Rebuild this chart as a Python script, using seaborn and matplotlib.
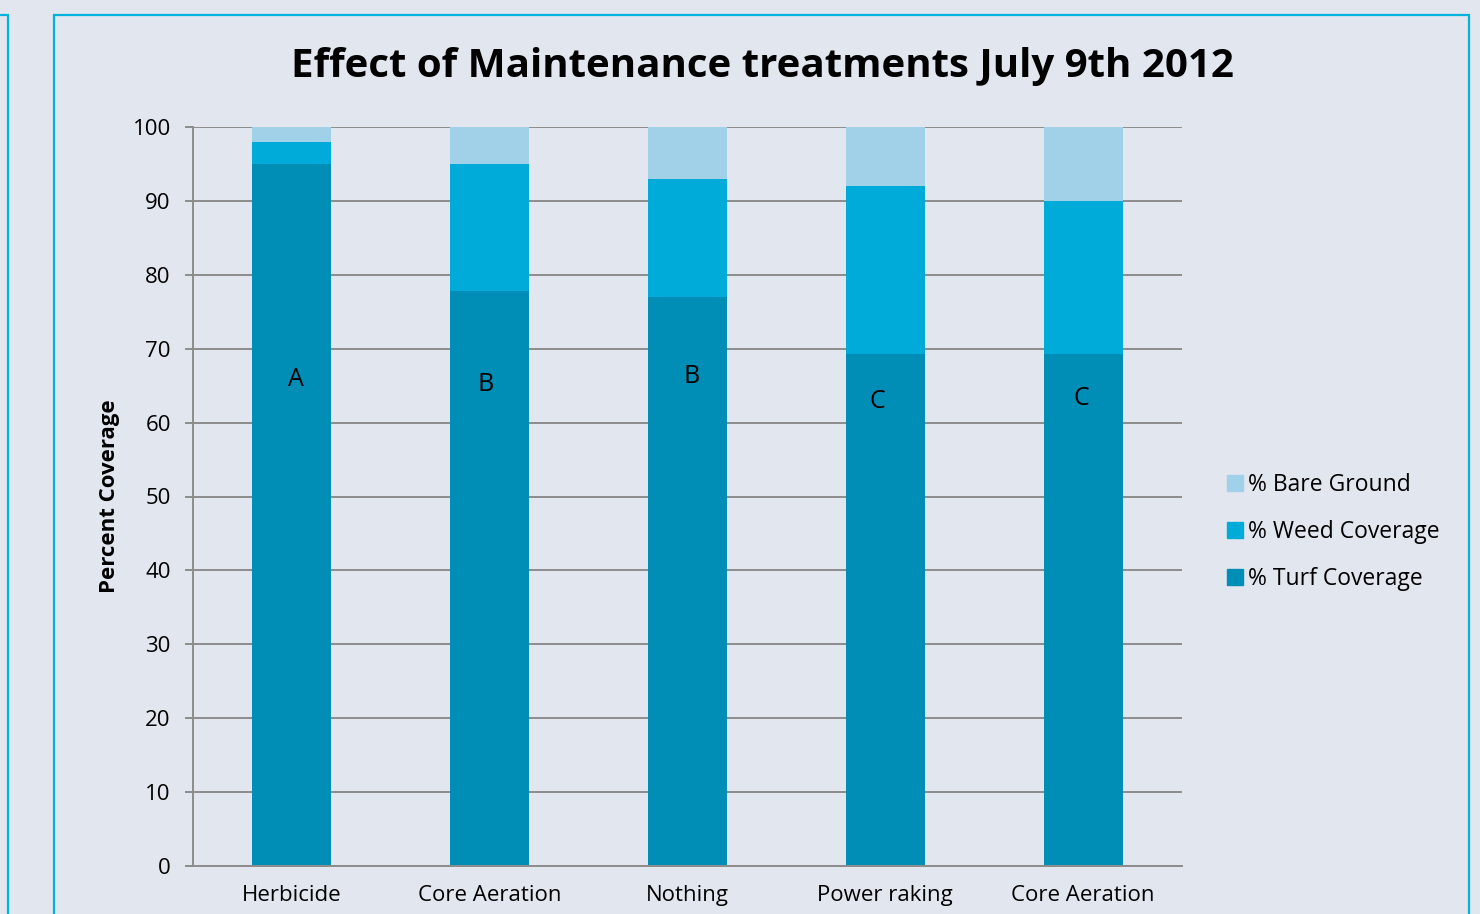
import matplotlib
matplotlib.use("Agg")
import matplotlib.pyplot as plt
import matplotlib.patches as mpatches
from matplotlib.ticker import FixedLocator
import seaborn as sns
import pandas as pd
import numpy as np

categories = ["Herbicide", "Core Aeration", "Nothing", "Power raking", "Core Aeration "]
tick_labels = ["Herbicide", "Core Aeration", "Nothing", "Power raking", "Core Aeration"]
turf = [95.0, 77.8, 77.0, 69.3, 69.3]
weed = [3.0, 17.2, 16.0, 22.7, 20.7]
bare = [2.0, 5.0, 7.0, 8.0, 10.0]
letters = ["A", "B", "B", "C", "C"]
letter_y = [65.8, 65.2, 66.3, 62.9, 63.2]
letter_dx = [0.02, -0.02, 0.02, -0.04, -0.01]

series_names = ["% Turf Coverage", "% Weed Coverage", "% Bare Ground"]
colors = {"% Turf Coverage": "#008EB7", "% Weed Coverage": "#00ABDA", "% Bare Ground": "#A1D0E9"}

BG = "#E2E6EF"
FRAME = "#00B2DE"
GRID = "#8C8C8C"

sns.set_theme(style="white")
plt.rcParams["font.family"] = ["Open Sans", "DejaVu Sans"]
plt.rcParams["text.color"] = "black"
plt.rcParams["axes.labelcolor"] = "black"
plt.rcParams["xtick.color"] = "black"
plt.rcParams["ytick.color"] = "black"

df = pd.DataFrame({"cat": categories, "turf": turf, "weed": weed, "bare": bare})
df["tw"] = df["turf"] + df["weed"]
df["total"] = df["tw"] + df["bare"]

fig = plt.figure(figsize=(14.8, 9.14), dpi=100, facecolor=BG)
ax = fig.add_axes([193/1480, 1-866/914, (1182-193)/1480, (866-127)/914])
ax.set_facecolor(BG)

sns.barplot(data=df, x="cat", y="total", color=colors["% Bare Ground"], width=0.4,
            saturation=1, ax=ax, zorder=3, linewidth=0)
sns.barplot(data=df, x="cat", y="tw", color=colors["% Weed Coverage"], width=0.4,
            saturation=1, ax=ax, zorder=3, linewidth=0)
sns.barplot(data=df, x="cat", y="turf", color=colors["% Turf Coverage"], width=0.4,
            saturation=1, ax=ax, zorder=3, linewidth=0)

for i, (l, yv, dx) in enumerate(zip(letters, letter_y, letter_dx)):
    ax.text(i + dx, yv, l, ha="center", va="center", fontsize=18, color="black", zorder=5)

ax.set_ylim(0, 100)
ax.set_xlim(-0.5, 4.5)
ax.set_yticks(np.arange(0, 101, 10))
ax.yaxis.grid(True, color=GRID, linewidth=1.4, zorder=0)
ax.set_axisbelow(True)
ax.set_xticks(range(5))
ax.set_xticklabels(tick_labels, fontsize=16)
ax.xaxis.set_minor_locator(FixedLocator(np.arange(-0.5, 5, 1)))
ax.tick_params(axis="x", which="major", length=0, pad=14, labelcolor="black")
ax.tick_params(axis="x", which="minor", length=8, width=1.4, color=GRID, direction="out")
ax.tick_params(axis="y", length=6, width=1.4, color=GRID, labelsize=16, pad=10, left=True,
               labelcolor="black")
ax.set_xlabel("")
ax.set_ylabel("Percent Coverage", fontsize=16, fontweight="bold", labelpad=9, color="black")
for s in ["top", "right"]:
    ax.spines[s].set_visible(False)
for s in ["left", "bottom"]:
    ax.spines[s].set_color(GRID)
    ax.spines[s].set_linewidth(1.4)
    ax.spines[s].set_zorder(4)

handles = [mpatches.Patch(color=colors[n], label=n) for n in reversed(series_names)]
leg = fig.legend(handles=handles, loc="center left", bbox_to_anchor=(1206/1480, 1-532/914),
                 frameon=False, fontsize=16.5, handlelength=0.7, handleheight=0.7,
                 handletextpad=0.25, labelspacing=1.0, labelcolor="black")

fig.text(762/1480, 1-67/914, "Effect of Maintenance treatments July 9th 2012",
         ha="center", va="center", fontsize=29, fontweight="bold", color="black")

# frames
fig.patches.append(mpatches.Rectangle((54/1480, -0.1), (1469-54)/1480, (1.1 - 15/914),
                                      transform=fig.transFigure, fill=False,
                                      edgecolor=FRAME, linewidth=1.6))
fig.patches.append(mpatches.Rectangle((-0.1, -0.1), 0.1 + 8/1480, (1.1 - 15/914),
                                      transform=fig.transFigure, fill=False,
                                      edgecolor=FRAME, linewidth=1.6))

fig.savefig("out.png", dpi=100, facecolor=BG)
